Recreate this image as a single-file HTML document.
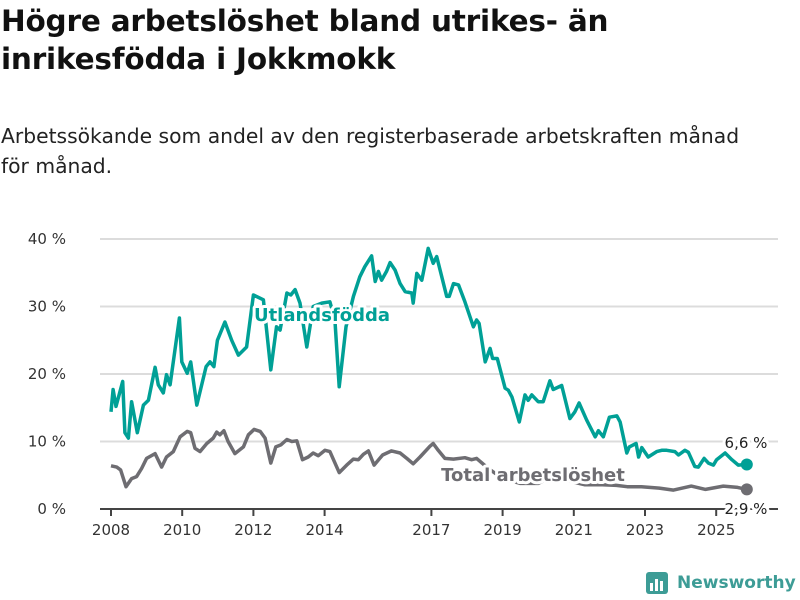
<!DOCTYPE html>
<html><head><meta charset="utf-8"><style>
body{margin:0;background:#fff;width:800px;height:600px;overflow:hidden;font-family:"DejaVu Sans","Liberation Sans",sans-serif;}
h1{position:absolute;left:1px;top:2px;margin:0;font-size:29.5px;line-height:38px;font-weight:bold;color:#111;width:700px;letter-spacing:-0.2px;}
p{position:absolute;left:1px;top:121px;margin:0;font-size:20.3px;line-height:30px;color:#222;width:792px;}
svg{position:absolute;left:0;top:0;}
</style></head><body>
<h1>Högre arbetslöshet bland utrikes- än<br>inrikesfödda i Jokkmokk</h1>
<p>Arbetssökande som andel av den registerbaserade arbetskraften månad<br>för månad.</p>
<svg id="c" width="800" height="600"></svg>
<script>
const yTicks=[0,10,20,30,40];
const yTickLabels=["0 %","10 %","20 %","30 %","40 %"];
const xTicks=[2008,2010,2012,2014,2017,2019,2021,2023,2025];
const tealT=[0,0.06,0.14,0.33,0.39,0.49,0.58,0.74,0.91,1.05,1.24,1.33,1.47,1.56,1.66,1.92,1.99,2.14,2.24,2.41,2.67,2.78,2.89,2.99,3.2,3.39,3.58,3.81,4,4.28,4.49,4.65,4.75,4.94,5.05,5.17,5.31,5.5,5.68,5.92,6.15,6.29,6.41,6.6,6.81,6.99,7.13,7.32,7.42,7.51,7.6,7.74,7.84,7.98,8.12,8.26,8.45,8.49,8.59,8.73,8.91,9.05,9.15,9.43,9.5,9.62,9.76,9.94,10.18,10.27,10.34,10.51,10.65,10.72,10.85,11.07,11.16,11.26,11.47,11.63,11.72,11.82,12,12.14,12.33,12.42,12.66,12.89,13.03,13.15,13.36,13.6,13.69,13.83,14,14.21,14.3,14.49,14.56,14.75,14.82,14.91,15.09,15.33,15.47,15.61,15.84,15.94,16.12,16.22,16.4,16.5,16.66,16.78,16.92,17.01,17.25,17.44,17.62,17.86];
const tealV=[14.4,17.7,15.2,18.9,11.3,10.5,15.9,11.3,15.4,16.1,21,18.4,17.2,19.9,18.4,28.3,21.8,20.1,21.8,15.4,21.1,21.8,21.1,25,27.7,25,22.8,24,31.7,31,20.6,27,26.5,32,31.7,32.5,30.5,24,30,30.5,30.7,28,18.1,27,31.5,34.4,35.9,37.5,33.7,35.2,33.9,35.2,36.5,35.4,33.4,32.2,32,30.5,34.9,33.9,38.6,36.4,37.4,31.5,31.5,33.4,33.2,30.7,27,28,27.5,21.8,23.8,22.3,22.3,17.9,17.6,16.6,12.9,16.9,16.1,16.9,15.9,15.9,19,17.7,18.3,13.4,14.4,15.7,13.2,10.7,11.6,10.7,13.6,13.8,12.9,8.3,9.2,9.7,7.7,9.1,7.7,8.5,8.7,8.7,8.5,8,8.7,8.4,6.3,6.2,7.5,6.8,6.5,7.3,8.3,7.3,6.5,6.6];
const grayT=[0,0.16,0.27,0.42,0.58,0.72,0.86,1,1.24,1.42,1.56,1.75,1.94,2.14,2.24,2.36,2.5,2.69,2.87,2.97,3.06,3.17,3.29,3.48,3.72,3.86,4.02,4.19,4.33,4.49,4.63,4.77,4.94,5.08,5.22,5.38,5.54,5.68,5.82,6.01,6.15,6.41,6.62,6.81,6.95,7.09,7.23,7.39,7.63,7.88,8.12,8.31,8.49,8.68,8.96,9.05,9.19,9.38,9.62,9.94,10.13,10.27,10.6,11,11.5,12,12.3,12.8,13.3,13.8,14.2,14.5,14.9,15.4,15.8,16.3,16.7,17.2,17.6,17.86];
const grayV=[6.4,6.2,5.8,3.3,4.5,4.8,6,7.5,8.2,6.2,7.7,8.5,10.7,11.5,11.3,9,8.5,9.7,10.5,11.4,11,11.6,10,8.2,9.2,11,11.8,11.5,10.5,6.8,9.2,9.5,10.3,10,10.1,7.3,7.7,8.3,7.9,8.7,8.5,5.4,6.5,7.4,7.3,8.1,8.6,6.5,8,8.6,8.3,7.5,6.7,7.7,9.3,9.7,8.7,7.5,7.4,7.6,7.3,7.5,6,4.5,3.8,3.8,4.6,4.2,3.6,3.6,3.5,3.3,3.3,3.1,2.8,3.4,2.9,3.4,3.2,2.9];
const NS='http://www.w3.org/2000/svg',svg=document.getElementById('c');
const X=t=>111+35.6*t, XY=yr=>X(yr-2008), Y=v=>509-6.75*v;
function mk(tag,at,par){const e=document.createElementNS(NS,tag);for(const k in at)e.setAttribute(k,at[k]);(par||svg).appendChild(e);return e;}
yTicks.forEach((v,i)=>{
 if(v>0){const g=mk('line',{x1:100,x2:778,y1:Y(v),y2:Y(v),stroke:'#dcdcdc','stroke-width':2});
 
 }
 const t=mk('text',{x:66,y:Y(v)+5,'text-anchor':'end','font-size':15,fill:'#333'});t.textContent=yTickLabels[i];
 
 
});
const ax=mk('line',{x1:100,x2:778,y1:509,y2:509,stroke:'#444','stroke-width':2});


xTicks.forEach(yr=>{
 const l=mk('line',{x1:XY(yr),x2:XY(yr),y1:509,y2:516,stroke:'#444','stroke-width':2});
 
 
 const t=mk('text',{x:XY(yr),y:535,'text-anchor':'middle','font-size':15,fill:'#333'});t.textContent=yr;
 
 
});
function line(T,V,col,name){const d=T.map((t,i)=>(i?'L':'M')+X(t).toFixed(1)+','+Y(V[i]).toFixed(1)).join('');
 const p=mk('path',{d:d,fill:'none',stroke:col,'stroke-width':3.5,'stroke-linejoin':'round'});
 
 
 const n=T.length-1;const c=mk('circle',{cx:X(T[n]),cy:Y(V[n]),r:6,fill:col});
 
 }
line(grayT,grayV,'#6e6d72','total-line');
line(tealT,tealV,'#00a096','utlandsfodda-line');
function lbl(x,y,s,col,name,size,w){const t=mk('text',{x:x,y:y,'text-anchor':'middle','font-size':size,'font-weight':w,fill:col,stroke:'#fff','stroke-width':6,'paint-order':'stroke','stroke-linejoin':'round'});t.textContent=s;
 
 }
lbl(322,321,'Utlandsfödda','#00a096','utlandsfodda-label',18,'bold');
lbl(533,481,'Total arbetslöshet','#6e6d72','total-label',18,'bold');
lbl(746,448,'6,6 %','#222','teal-end-value',15,'normal');
lbl(746,514,'2,9 %','#222','total-end-value',15,'normal');
</script>
<div style="position:absolute;left:645px;top:570px;height:26px;display:flex;align-items:center;">
<svg width="24" height="24" style="position:static" viewBox="0 0 24 24"><rect x="1" y="1" width="22" height="22" rx="3" fill="#3d9c96"/><rect x="5" y="12" width="3" height="8" fill="#fff"/><rect x="10" y="8" width="3" height="12" fill="#fff"/><rect x="15" y="10" width="3" height="10" fill="#fff"/></svg>
<span style="margin-left:8px;font-size:17px;font-weight:bold;color:#3d9c96;">Newsworthy</span></div>
</body></html>
